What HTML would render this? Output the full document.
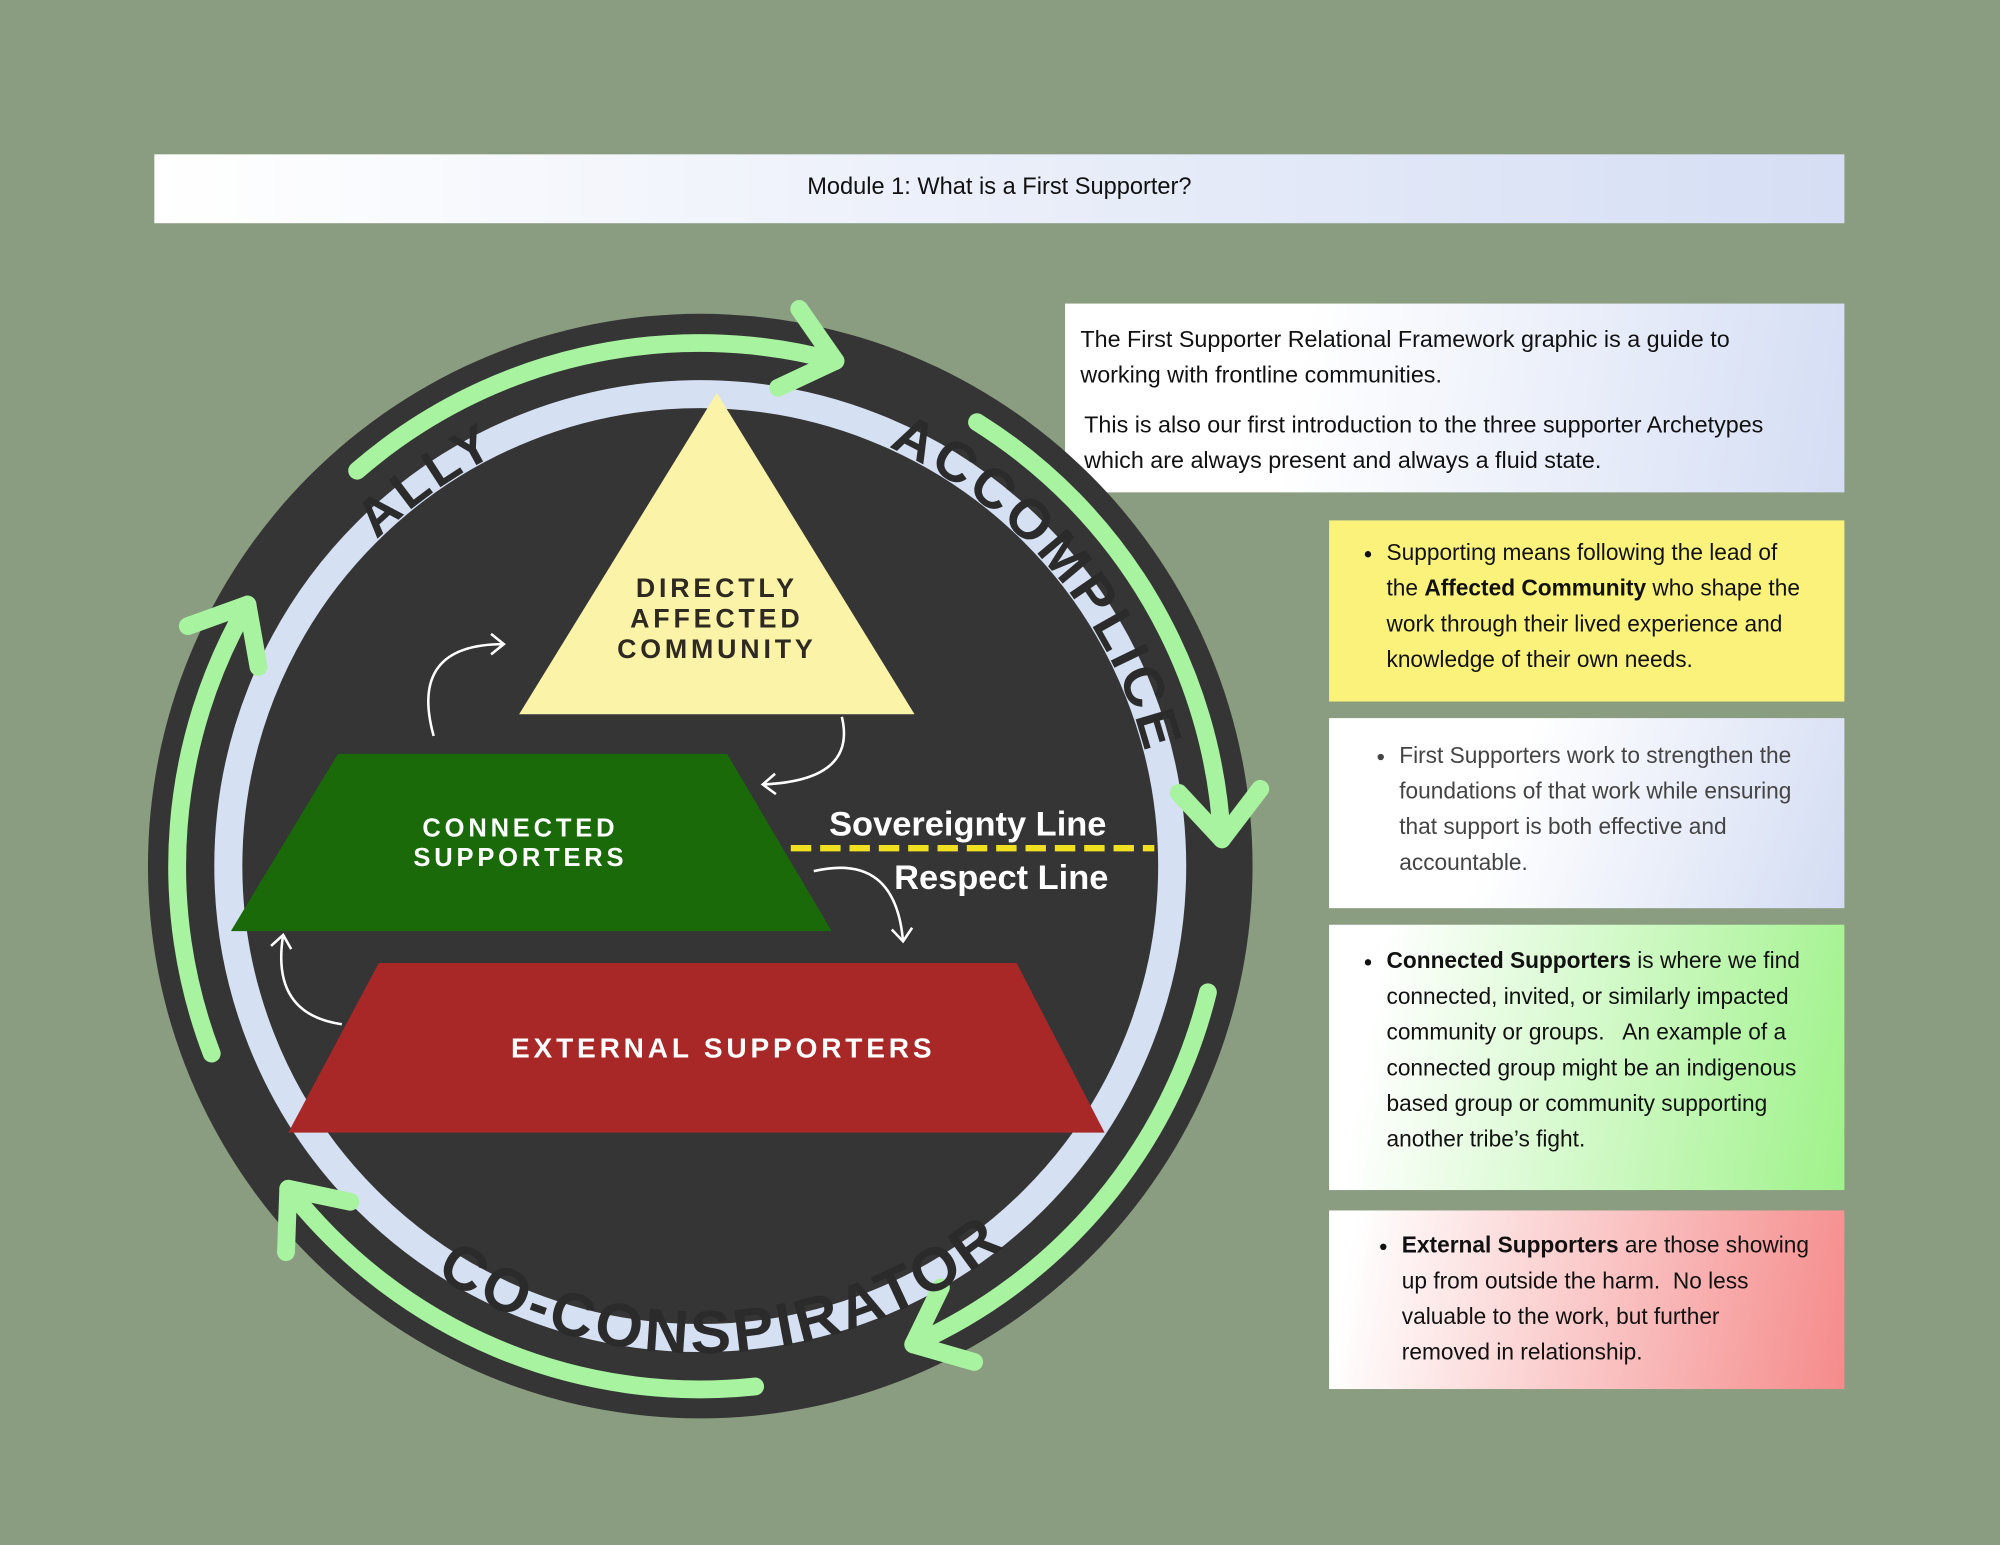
<!DOCTYPE html>
<html><head><meta charset="utf-8"><style>
html,body{margin:0;padding:0;width:2000px;height:1545px;overflow:hidden;background:#8b9d81;}
#s{position:absolute;left:0;top:0;width:1568px;height:1211px;transform:scale(1.27551);transform-origin:0 0;font-family:"Liberation Sans",sans-serif;}
.box{position:absolute;box-sizing:border-box;font-size:17.8px;line-height:28px;color:#111;white-space:nowrap;}
.box ul{margin:0;padding:0 0 0 45px;}
.box li{margin:0;}
</style></head><body><div id="s">
<div class="box" style="left:121px;top:121px;width:1325px;height:54px;background:linear-gradient(90deg,#fff,#d5def4);text-align:center;line-height:50px;font-size:18.5px;">Module 1: What is a First Supporter?</div>
<div class="box" style="left:835px;top:238px;width:611px;height:148px;background:linear-gradient(100deg,#fff 30%,#d4ddf4);padding:14px 0 0 12px;font-size:18.3px">The First Supporter Relational Framework graphic is a guide to<br>working with frontline communities.<div style="margin-top:11px;padding-left:3px">This is also our first introduction to the three supporter Archetypes<br>which are always present and always a fluid state.</div></div>
<div class="box" style="left:1042px;top:408px;width:404px;height:142px;background:#fbf27c;padding:11px 0 0 0;"><ul style="padding-left:45px"><li>Supporting means following the lead of<br>the <b>Affected Community</b> who shape the<br>work through their lived experience and<br>knowledge of their own needs.</li></ul></div>
<div class="box" style="left:1042px;top:563px;width:404px;height:149px;background:linear-gradient(110deg,#fff 35%,#d3dcf3);padding:15px 10px 0 0;color:#444;"><ul style="padding-left:55px"><li>First Supporters work to strengthen the<br>foundations of that work while ensuring<br>that support is both effective and<br>accountable.</li></ul></div>
<div class="box" style="left:1042px;top:725px;width:404px;height:208px;background:linear-gradient(100deg,#fff 10%,#9ff28a);padding:14px 10px 0 0;"><ul style="padding-left:45px"><li><b>Connected Supporters</b> is where we find<br>connected, invited, or similarly impacted<br>community or groups.&nbsp;&nbsp; An example of a<br>connected group might be an indigenous<br>based group or community supporting<br>another tribe’s fight.</li></ul></div>
<div class="box" style="left:1042px;top:949px;width:404px;height:140px;background:linear-gradient(100deg,#fff 5%,#f58b8b);padding:13px 10px 0 0;"><ul style="padding-left:57px"><li><b>External Supporters</b> are those showing<br>up from outside the harm.&nbsp; No less<br>valuable to the work, but further<br>removed in relationship.</li></ul></div>

<svg width="1568" height="1211" viewBox="0 0 1568 1211" style="position:absolute;left:0;top:0">
<defs>
<marker id="g" markerUnits="userSpaceOnUse" markerWidth="120" markerHeight="120" refX="60" refY="60" orient="auto" viewBox="0 0 120 120"><path d="M22 28 L60 60 L22 92" fill="none" stroke="#a8f3a0" stroke-width="14" stroke-linecap="round" stroke-linejoin="round"/></marker>
<marker id="w" markerUnits="userSpaceOnUse" markerWidth="30" markerHeight="30" refX="15" refY="15" orient="auto" viewBox="0 0 30 30"><path d="M5 7 L15 15 L5 23" fill="none" stroke="#fff" stroke-width="2"/></marker>
<path id="top" d="M 189 679 A 360 360 0 0 1 909 679"/>
<path id="bot" d="M 167 679 A 382 382 0 0 0 931 679"/>
</defs>
<circle cx="549" cy="679" r="433" fill="#353535"/>
<circle cx="549" cy="679" r="370" fill="none" stroke="#d6e0f3" stroke-width="22"/>
<g fill="none" stroke="#a8f3a0" stroke-width="14" stroke-linecap="round">
<path d="M 280 369 A 410 410 0 0 1 655 283" marker-end="url(#g)"/>
<path d="M 766 331 A 410 410 0 0 1 958 658" marker-end="url(#g)"/>
<path d="M 947 778 A 410 410 0 0 1 716 1054" marker-end="url(#g)"/>
<path d="M 592 1087 A 410 410 0 0 1 226 932" marker-end="url(#g)"/>
<path d="M 166 826 A 410 410 0 0 1 194 474" marker-end="url(#g)"/>
</g>
<g font-family="Liberation Sans,sans-serif" font-weight="bold" fill="#2b2b2b" letter-spacing="3">
<text font-size="42"><textPath href="#top" startOffset="343" text-anchor="middle">ALLY</textPath></text>
<text font-size="44"><textPath href="#top" startOffset="880" text-anchor="middle">ACCOMPLICE</textPath></text>
<text font-size="48"><textPath href="#bot" startOffset="620" text-anchor="middle">CO-CONSPIRATOR</textPath></text>
</g>
<polygon points="562,308 407,560 717,560" fill="#fbf3a7"/>
<polygon points="265,591 570,591 652,730 181,730" fill="#1a6a0a"/>
<polygon points="297,755 797,755 866,888 226,888" fill="#a82828"/>
<g font-family="Liberation Sans,sans-serif" font-weight="bold" text-anchor="middle" letter-spacing="3">
<text x="562" y="468" font-size="21" fill="#2e2a22">DIRECTLY</text>
<text x="562" y="492" font-size="21" fill="#2e2a22">AFFECTED</text>
<text x="562" y="516" font-size="21" fill="#2e2a22">COMMUNITY</text>
<text x="408" y="656" font-size="20" fill="#fff">CONNECTED</text>
<text x="408" y="679" font-size="20" fill="#fff">SUPPORTERS</text>
<text x="567" y="829" font-size="22" fill="#fff">EXTERNAL SUPPORTERS</text>
</g>
<line x1="620" y1="665" x2="905" y2="665" stroke="#f0e020" stroke-width="5" stroke-dasharray="16,7"/>
<text x="650" y="655" font-family="Liberation Sans,sans-serif" font-weight="bold" font-size="27" fill="#fff">Sovereignty Line</text>
<text x="701" y="697" font-family="Liberation Sans,sans-serif" font-weight="bold" font-size="27" fill="#fff">Respect Line</text>
<g fill="none" stroke="#fff" stroke-width="2">
<path d="M 340 577 Q 320 505 395 505" marker-end="url(#w)"/>
<path d="M 660 562 Q 672 612 598 615" marker-end="url(#w)"/>
<path d="M 638 683 Q 702 668 708 738" marker-end="url(#w)"/>
<path d="M 268 803 Q 212 795 222 733" marker-end="url(#w)"/>
</g>
</svg>
</div></body></html>
